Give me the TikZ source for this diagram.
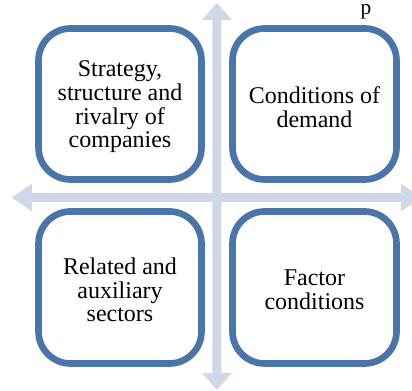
\documentclass[tikz,border=0pt]{standalone}
\usepackage{fontspec}
\setmainfont{Liberation Serif}
\definecolor{boxblue}{HTML}{4A75AB}
\definecolor{arrowgray}{HTML}{D0D8E8}
\tikzset{
  quad/.style={draw=boxblue, line width=5pt, fill=white, rounded corners=24pt},
  quadtext/.style={align=center, font=\fontsize{18}{17.8}\selectfont, text=black, inner sep=0pt},
  arrowfill/.style={fill=arrowgray, draw=none}
}
\begin{document}
\begin{tikzpicture}[x=0.75pt,y=-0.75pt]
\useasboundingbox (0,0) rectangle (412,391);
\clip (0,0) rectangle (412,391);
% text fragment at top
\node[anchor=base, font=\fontsize{16}{18}\selectfont, inner sep=0pt] (frag) at (366,15) {p};
% cross arrows
\fill[arrowfill] (212.5,20) -- (202,20) -- (217,3) -- (232,20) -- (221.5,20)
  -- (221.5,373) -- (232,373) -- (217,390) -- (202,373) -- (212.5,373) -- cycle;
\fill[arrowfill] (32,193) -- (32,183.5) -- (12,197.5) -- (32,211.5) -- (32,202)
  -- (401,202) -- (401,211.5) -- (421,197.5) -- (401,183.5) -- (401,193) -- cycle;
% boxes
\draw[quad] (38.5,28.5) rectangle (201.5,179.5);
\draw[quad] (232.5,28.5) rectangle (396.5,179.5);
\draw[quad] (38.5,211.5) rectangle (201.5,363.5);
\draw[quad] (232.5,211.5) rectangle (396.5,363.5);
\node[quadtext] (tl) at (120,107) {Strategy,\\structure and\\rivalry of\\companies};
\node[quadtext] (tr) at (314.5,107.5) {Conditions of\\demand};
\node[quadtext] (bl) at (120,290) {Related and\\auxiliary\\sectors};
\node[quadtext] (br) at (314.5,290) {Factor\\conditions};
\end{tikzpicture}
\end{document}
